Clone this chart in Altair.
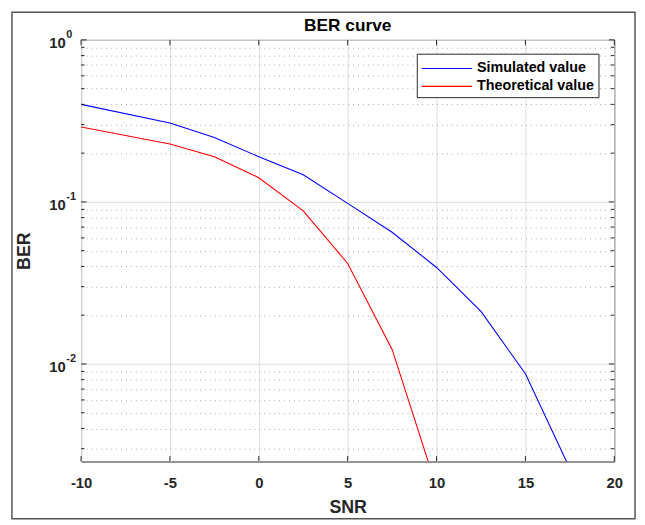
import altair as alt
import pandas as pd

# ---- data ----
snr_sim = [-10, -5, -2.5, 0, 2.5, 5, 7.5, 10, 12.5, 15, 17.5]
ber_sim = [0.40, 0.307, 0.25, 0.19, 0.147, 0.098, 0.065, 0.0394, 0.0211, 0.0087, 0.00226]
snr_th = [-10, -5, -2.5, 0, 2.5, 5, 7.5, 10]
ber_th = [0.29, 0.228, 0.19, 0.141, 0.088, 0.0417, 0.0123, 0.00173]
series_names = ["Simulated value", "Theoretical value"]
series_colors = ["#0000ff", "#ff0000"]
x_ticks = [-10, -5, 0, 5, 10, 15, 20]
y_major = [0.01, 0.1, 1.0]
y_exponents = ["-2", "-1", "0"]
y_minor = [0.003, 0.004, 0.005, 0.006, 0.007, 0.008, 0.009,
           0.02, 0.03, 0.04, 0.05, 0.06, 0.07, 0.08, 0.09,
           0.2, 0.3, 0.4, 0.5, 0.6, 0.7, 0.8, 0.9]
y_ticks = sorted(y_minor + y_major)
title_text = "BER curve"

rows = []
for i, (x, y) in enumerate(zip(snr_sim, ber_sim)):
    rows.append({"snr": x, "ber": y, "series": series_names[0], "idx": i})
for i, (x, y) in enumerate(zip(snr_th, ber_th)):
    rows.append({"snr": x, "ber": y, "series": series_names[1], "idx": i})
df = pd.DataFrame(rows)

exp_df = pd.DataFrame({"ber": y_major, "exp": y_exponents})
major_df = pd.DataFrame({"ber": y_major})
minor_df = pd.DataFrame({"ber": y_minor})
xt_df = pd.DataFrame({"snr": x_ticks})

FONT = "Liberation Sans"
TXT = "#262626"
W, H = 540, 427
major = "abs(log(datum.value)/LN10 - round(log(datum.value)/LN10)) < 0.001"

xscale = alt.Scale(domain=[-10, 20], nice=False, zero=False)
yscale = alt.Scale(type="log", domain=[0.0025, 1], nice=False)

x_axis = alt.Axis(values=x_ticks, labelExpr="datum.value + ''", grid=True,
                  gridColor="#dcdcdc", ticks=False, tickSize=0, domain=False,
                  labelFlush=False, labelPadding=14, labelFont=FONT,
                  labelFontSize=15, labelFontWeight="bold", labelColor=TXT,
                  title="SNR", titleFont=FONT, titleFontSize=18,
                  titleFontWeight="bold", titleColor=TXT, titlePadding=9)
y_axis = alt.Axis(values=y_ticks,
                  labelExpr="(" + major + ") ? '10' : ''",
                  grid=True,
                  gridDash={"condition": {"test": major, "value": []}, "value": [1, 4]},
                  gridColor={"condition": {"test": major, "value": "#dcdcdc"}, "value": "#a8a8a8"},
                  ticks=False, tickSize=0, domain=False, labelPadding=16,
                  labelOffset=3, labelFont=FONT, labelFontSize=15,
                  labelFontWeight="bold", labelColor=TXT,
                  title="BER", titleFont=FONT, titleFontSize=18,
                  titleFontWeight="bold", titleColor=TXT, titlePadding=16)

lines = alt.Chart(df).mark_line(clip=True, strokeWidth=1.1).encode(
    x=alt.X("snr:Q", scale=xscale, axis=x_axis),
    y=alt.Y("ber:Q", scale=yscale, axis=y_axis),
    color=alt.Color("series:N",
                    scale=alt.Scale(domain=series_names, range=series_colors),
                    legend=alt.Legend(title=None, orient="none", legendX=340, legendY=14,
                                      padding=4, fillColor="white", strokeColor="#262626",
                                      symbolType="M-1,0L4.1,0", symbolSize=400,
                                      symbolStrokeWidth=1.2, labelOffset=35,
                                      labelFont=FONT, labelFontSize=14.5,
                                      labelFontWeight="bold", labelColor="#000000",
                                      rowPadding=0, cornerRadius=0)),
    order="idx:Q",
)

exponents = alt.Chart(exp_df).mark_text(
    align="left", baseline="middle", dy=-5, font=FONT, fontSize=11,
    fontWeight="bold", color=TXT, clip=False
).encode(y=alt.Y("ber:Q", scale=yscale, axis=y_axis), x=alt.value(-15), text="exp:N")

def yticks(data, length):
    left = alt.Chart(data).mark_rule(color=TXT, strokeWidth=1).encode(
        y=alt.Y("ber:Q", scale=yscale, axis=y_axis), x=alt.value(0), x2=alt.value(length))
    right = alt.Chart(data).mark_rule(color=TXT, strokeWidth=1).encode(
        y=alt.Y("ber:Q", scale=yscale, axis=y_axis), x=alt.value(W - length), x2=alt.value(W))
    return [left, right]

xt_bottom = alt.Chart(xt_df).mark_rule(color=TXT, strokeWidth=1).encode(
    x=alt.X("snr:Q", scale=xscale, axis=x_axis), y=alt.value(H - 5.5), y2=alt.value(H))
xt_top = alt.Chart(xt_df).mark_rule(color=TXT, strokeWidth=1).encode(
    x=alt.X("snr:Q", scale=xscale, axis=x_axis), y=alt.value(0), y2=alt.value(5.5))

title = alt.Chart(alt.Data(values=[{"t": title_text}])).mark_text(
    align="center", baseline="alphabetic", font=FONT, fontSize=17.5,
    fontWeight="bold", color="#000000", clip=False
).encode(x=alt.value(W / 2), y=alt.value(-9), text="t:N")

frame = alt.Chart(alt.Data(values=[{}])).mark_rect(
    fill="transparent", stroke="#555555", strokeWidth=1.5, clip=False
).encode(x=alt.value(-70), x2=alt.value(561), y=alt.value(-28), y2=alt.value(485))

chart = alt.layer(
    lines, frame, *yticks(minor_df, 3.5), *yticks(major_df, 5.5),
    xt_bottom, xt_top, exponents, title
).properties(
    width=W, height=H,
    padding={"left": 74, "top": 29, "right": 23, "bottom": 61},
    autosize=alt.AutoSizeParams(type="none"),
    background="white",
).configure_view(stroke="#262626", strokeWidth=1)

chart.save("out.html", embed_options={"renderer": "svg", "actions": False})
